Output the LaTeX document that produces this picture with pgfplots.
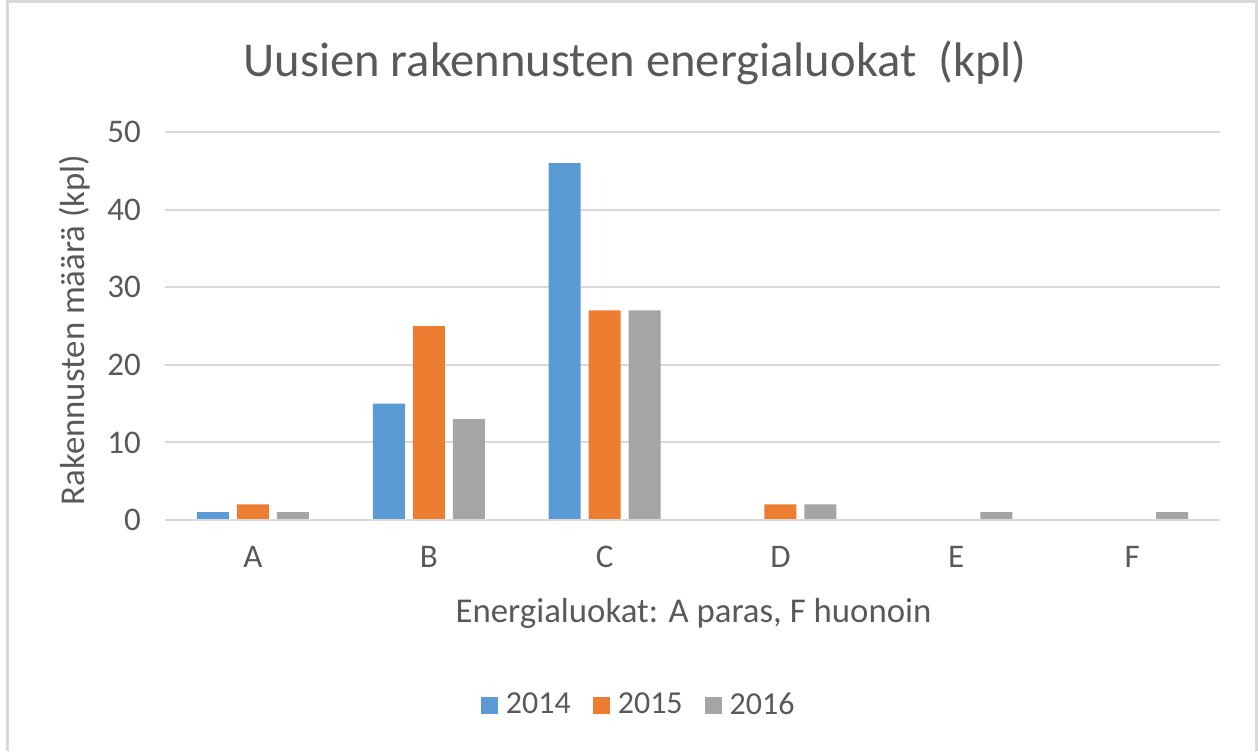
\documentclass[border=0pt]{standalone}
\usepackage{fontspec}
\setmainfont{Carlito}
\usepackage{pgfplots}
\pgfplotsset{compat=1.18}
\definecolor{cblue}{HTML}{5B9BD5}
\definecolor{corange}{HTML}{ED7D31}
\definecolor{cgray}{HTML}{A5A5A5}
\definecolor{cgrid}{HTML}{D9D9D9}
\definecolor{ctext}{HTML}{595959}
\begin{document}
\begin{tikzpicture}
\useasboundingbox (0,0) rectangle (629pt,375.5pt);
\draw[cgrid, line width=1.5pt] (3.5pt,0) -- (3.5pt,374.5pt) -- (628.25pt,374.5pt) -- (628.25pt,0);
\node[anchor=base, text=ctext, font=\fontsize{24.3}{28}\selectfont] at (317.5pt,337pt) {Uusien rakennusten energialuokat \ (kpl)};
\begin{axis}[
  at={(82.5pt,115.5pt)}, anchor=south west,
  scale only axis, width=527.5pt, height=194pt,
  ybar=4pt, bar width=16pt,
  xmin=-0.5, xmax=5.5, ymin=0, ymax=50,
  xtick={0,1,2,3,4,5}, xticklabels={A,B,C,D,E,F},
  ytick={0,10,20,30,40,50},
  axis line style={draw=none},
  ymajorgrids, grid style={cgrid, line width=1pt},
  major tick length=0pt,
  tick label style={text=ctext, font=\fontsize{16.5}{19}\selectfont},
  /pgf/number format/assume math mode=true,
  yticklabel style={xshift=-8.5pt},
  xticklabel style={yshift=-9.5pt},
  xlabel={Energialuokat: A paras, F huonoin},
  ylabel={Rakennusten määrä (kpl)},
  label style={text=ctext, font=\fontsize{17.4}{20}\selectfont},
  xlabel style={at={(axis description cs:0.501,0)}, anchor=center, yshift=-46.5pt},
  ylabel style={at={(axis description cs:0,0.49)}, anchor=center, xshift=0pt, yshift=45pt},
  legend columns=3,
  legend style={at={(0.45,-0.477)}, anchor=center, draw=none, fill=none,
    font=\fontsize{16}{19}\selectfont, text=ctext,
    /tikz/every odd column/.append style={column sep=2pt},
    /tikz/every even column/.append style={column sep=9pt}},
  legend image code/.code={\fill[#1] (0pt,-4.25pt) rectangle (8.5pt,4.25pt);},
  clip=false,
]
\addplot[fill=cblue, draw=none] coordinates {(0,1) (1,15) (2,46) (3,0) (4,0) (5,0)};
\addplot[fill=corange, draw=none] coordinates {(0,2) (1,25) (2,27) (3,2) (4,0) (5,0)};
\addplot[fill=cgray, draw=none] coordinates {(0,1) (1,13) (2,27) (3,2) (4,1) (5,1)};
\draw[cgrid, line width=1pt] (axis cs:-0.5,0) -- (axis cs:5.5,0);
\legend{2014,2015,2016}
\end{axis}
\end{tikzpicture}
\end{document}
